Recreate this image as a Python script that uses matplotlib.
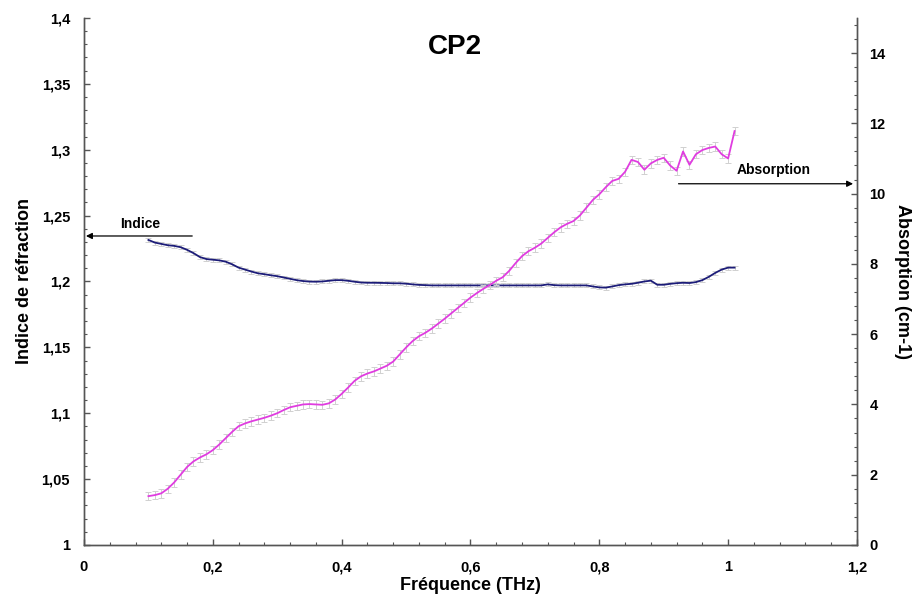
import matplotlib
matplotlib.use("Agg")
import matplotlib.pyplot as plt
from matplotlib.ticker import FuncFormatter, MultipleLocator

plt.rcParams["font.family"] = ["Liberation Sans", "DejaVu Sans"]
plt.rcParams["font.weight"] = "bold"

# Frequency grid (THz)
freq = [0.10, 0.11, 0.12, 0.13, 0.14, 0.15, 0.16, 0.17, 0.18, 0.19,
        0.20, 0.21, 0.22, 0.23, 0.24, 0.25, 0.26, 0.27, 0.28, 0.29,
        0.30, 0.31, 0.32, 0.33, 0.34, 0.35, 0.36, 0.37, 0.38, 0.39,
        0.40, 0.41, 0.42, 0.43, 0.44, 0.45, 0.46, 0.47, 0.48, 0.49,
        0.50, 0.51, 0.52, 0.53, 0.54, 0.55, 0.56, 0.57, 0.58, 0.59,
        0.60, 0.61, 0.62, 0.63, 0.64, 0.65, 0.66, 0.67, 0.68, 0.69,
        0.70, 0.71, 0.72, 0.73, 0.74, 0.75, 0.76, 0.77, 0.78, 0.79,
        0.80, 0.81, 0.82, 0.83, 0.84, 0.85, 0.86, 0.87, 0.88, 0.89,
        0.90, 0.91, 0.92, 0.93, 0.94, 0.95, 0.96, 0.97, 0.98, 0.99,
        1.00, 1.01]

# Refractive index
indice = [1.2315, 1.2295, 1.2285, 1.2275, 1.2270, 1.2260, 1.2240, 1.2215, 1.2185, 1.2170,
          1.2165, 1.2160, 1.2150, 1.2130, 1.2105, 1.2090, 1.2075, 1.2062, 1.2055, 1.2047,
          1.2040, 1.2030, 1.2020, 1.2010, 1.2003, 1.1999, 1.1998, 1.2000, 1.2005, 1.2010,
          1.2010, 1.2005, 1.1998, 1.1992, 1.1990, 1.1990, 1.1989, 1.1988, 1.1986, 1.1986,
          1.1983, 1.1978, 1.1974, 1.1972, 1.1970, 1.1970, 1.1970, 1.1970, 1.1970, 1.1970,
          1.1970, 1.1970, 1.1970, 1.1970, 1.1970, 1.1970, 1.1970, 1.1970, 1.1970, 1.1970,
          1.1970, 1.1970, 1.1978, 1.1972, 1.1970, 1.1970, 1.1970, 1.1970, 1.1970, 1.1962,
          1.1955, 1.1953, 1.1962, 1.1972, 1.1978, 1.1982, 1.1990, 1.2000, 1.2006, 1.1975,
          1.1975, 1.1982, 1.1987, 1.1990, 1.1988, 1.1995, 1.2010, 1.2035, 1.2065, 1.2090,
          1.2105, 1.2105]

# Absorption coefficient (cm-1)
absorption = [1.39, 1.42, 1.47, 1.60, 1.78, 2.00, 2.22, 2.38, 2.49, 2.58,
              2.70, 2.86, 3.04, 3.22, 3.38, 3.46, 3.52, 3.57, 3.62, 3.68,
              3.75, 3.84, 3.92, 3.96, 4.00, 4.01, 4.00, 3.99, 4.03, 4.14,
              4.30, 4.48, 4.67, 4.80, 4.88, 4.94, 5.02, 5.10, 5.22, 5.42,
              5.62, 5.80, 5.94, 6.04, 6.16, 6.30, 6.44, 6.59, 6.74, 6.89,
              7.04, 7.17, 7.29, 7.40, 7.52, 7.62, 7.80, 8.02, 8.22, 8.36,
              8.46, 8.58, 8.74, 8.90, 9.04, 9.14, 9.22, 9.38, 9.60, 9.82,
              9.98, 10.18, 10.36, 10.42, 10.62, 10.96, 10.90, 10.68, 10.86, 10.96,
              11.02, 10.80, 10.65, 11.20, 10.82, 11.12, 11.24, 11.30, 11.34, 11.12,
              11.00, 11.78]

indice_err = 0.0015
absorption_err = 0.12


def comma(v, pos):
    return ("%g" % round(v, 3)).replace(".", ",")


fig = plt.figure(figsize=(9.18, 6.01), dpi=100)
ax = fig.add_axes([0.0915, 0.0932, 0.842, 0.877])
ax2 = ax.twinx()

ax.errorbar(freq, indice, yerr=indice_err, color="#1c1c78", lw=1.3,
            ecolor="#d0d0d0", elinewidth=0.7, capsize=2.5, capthick=0.7, zorder=3)
ax2.errorbar(freq, absorption, yerr=absorption_err, color="#e03ce0", lw=1.3,
             ecolor="#d0d0d0", elinewidth=0.7, capsize=2.5, capthick=0.7, zorder=3)

ax.set_xlim(0, 1.2)
ax.set_ylim(1.0, 1.4)
ax2.set_ylim(0, 15)

ax.xaxis.set_major_locator(MultipleLocator(0.2))
ax.xaxis.set_minor_locator(MultipleLocator(0.04))
ax.yaxis.set_major_locator(MultipleLocator(0.05))
ax.yaxis.set_minor_locator(MultipleLocator(0.01))
ax2.set_yticks([0, 2, 4, 6, 8, 10, 12, 14])
ax2.yaxis.set_minor_locator(MultipleLocator(0.4))
ax.xaxis.set_major_formatter(FuncFormatter(comma))
ax.yaxis.set_major_formatter(FuncFormatter(comma))

spine_col = "#555555"
for a in (ax, ax2):
    a.spines["top"].set_visible(False)
    for s in ("left", "right", "bottom"):
        a.spines[s].set_color(spine_col)
        a.spines[s].set_linewidth(1.0)
    a.tick_params(which="both", direction="in", color=spine_col, labelsize=10.5)
    a.tick_params(which="major", length=4.5, width=1.0)
    a.tick_params(which="minor", length=2.5, width=0.8)
ax.tick_params(axis="y", pad=10)
ax.tick_params(axis="x", pad=11)
ax2.tick_params(axis="y", pad=9)

ax.set_xlabel("Fréquence (THz)", fontsize=13, fontweight="bold", labelpad=2)
ax.set_ylabel("Indice de réfraction", fontsize=13, fontweight="bold", labelpad=6)
ax2.set_ylabel("Absorption (cm-1)", fontsize=13, fontweight="bold",
               rotation=-90, labelpad=18)
ax.text(0.48, 0.944, "CP2", transform=ax.transAxes, fontsize=20,
        fontweight="bold", ha="center", va="center")

# Arrows pointing each curve to its axis
ax.annotate("", xy=(0.003, 1.2345), xytext=(0.168, 1.2345),
            arrowprops=dict(arrowstyle="-|>", color="black", lw=0.9,
                            mutation_scale=9, shrinkA=0, shrinkB=0))
ax.text(0.087, 1.2385, "Indice", fontsize=10, fontweight="bold",
        ha="center", va="bottom")
ax2.annotate("", xy=(1.194, 10.28), xytext=(0.923, 10.28),
             arrowprops=dict(arrowstyle="-|>", color="black", lw=0.9,
                             mutation_scale=9, shrinkA=0, shrinkB=0))
ax2.text(1.07, 10.48, "Absorption", fontsize=10, fontweight="bold",
         ha="center", va="bottom")

fig.savefig("out.png", dpi=100)
